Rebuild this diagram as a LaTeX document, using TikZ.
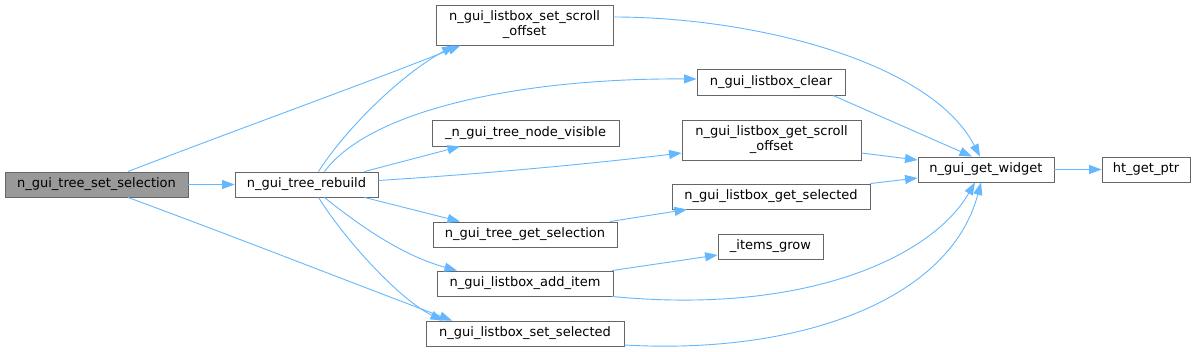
\documentclass[tikz,border=0pt]{standalone}
\usepackage{fontspec}
\setmainfont{DejaVu Sans}
\usetikzlibrary{arrows.meta}
\definecolor{edgeblue}{HTML}{63B8FF}
\definecolor{boxborder}{HTML}{666666}
\definecolor{curfill}{HTML}{999999}
\begin{document}
\begin{tikzpicture}[x=1pt,y=-1pt,
  fn/.style={draw=boxborder,line width=0.9pt,fill=white,inner sep=0pt,
    font=\fontsize{13}{15}\selectfont,align=center,minimum height=25pt},
  cur/.style={fn,fill=curfill},
  call/.style={draw=edgeblue,line width=0.9pt,-{Triangle[length=12.5pt,width=9pt]}}]
\path[use as bounding box,fill=white] (0,0) rectangle (1196,352);
% nodes
\node[cur,minimum width=183pt] (sel) at (96.5,184.5) {n\_gui\_tree\_set\_selection};
\node[fn,minimum width=143pt] (rebuild) at (306.5,184.5) {n\_gui\_tree\_rebuild};
\node[fn,minimum width=177pt,minimum height=40pt] (setscroll) at (524.5,25) {n\_gui\_listbox\_set\_scroll\\\_offset};
\node[fn,minimum width=148pt,minimum height=26pt] (clear) at (771,82) {n\_gui\_listbox\_clear};
\node[fn,minimum width=187pt,minimum height=26pt] (nodevis) at (525.5,133) {\_n\_gui\_tree\_node\_visible};
\node[fn,minimum width=179pt,minimum height=40pt] (getscroll) at (771.5,140) {n\_gui\_listbox\_get\_scroll\\\_offset};
\node[fn,minimum width=198pt] (getsel) at (771,196.5) {n\_gui\_listbox\_get\_selected};
\node[fn,minimum width=184pt] (treegetsel) at (525,234.5) {n\_gui\_tree\_get\_selection};
\node[fn,minimum width=105pt] (itemsgrow) at (770.5,246.5) {\_items\_grow};
\node[fn,minimum width=176pt] (additem) at (525,283.5) {n\_gui\_listbox\_add\_item};
\node[fn,minimum width=198pt] (setselected) at (525,333.5) {n\_gui\_listbox\_set\_selected};
\node[fn,minimum width=136pt] (getwidget) at (986,169.5) {n\_gui\_get\_widget};
\node[fn,minimum width=88pt] (htptr) at (1146,169.5) {ht\_get\_ptr};
% edges
\draw[call] (sel.east) -- (rebuild.west);
\draw[call] ([xshift=31.5pt]sel.north) .. controls (230,132) and (380,78) .. ([xshift=-64pt]setscroll.south);
\draw[call] ([xshift=31.5pt]sel.south) .. controls (230,235) and (350,282) .. ([xshift=-73pt]setselected.north);
\draw[call] ([xshift=12pt]rebuild.north) .. controls (345,130) and (400,75) .. ([xshift=-70pt]setscroll.south);
\draw[call] ([xshift=18pt]rebuild.north) .. controls (370,110) and (520,78) .. ([yshift=3pt]clear.west);
\draw[call] ([xshift=58pt]rebuild.north) -- ([xshift=-65.5pt]nodevis.south);
\draw[call] ([yshift=4pt]rebuild.east) .. controls (480,174) and (580,165) .. ([yshift=-13pt]getscroll.west);
\draw[call] ([xshift=58pt]rebuild.south) -- ([xshift=-65pt]treegetsel.north);
\draw[call] ([xshift=18pt]rebuild.south) .. controls (355,222) and (400,255) .. ([xshift=-68pt]additem.north);
\draw[call] ([xshift=12pt]rebuild.south) .. controls (345,240) and (400,300) .. ([xshift=-82pt]setselected.north);
\draw[call] ([yshift=8pt]setscroll.east) .. controls (750,17) and (930,60) .. ([xshift=-6pt]getwidget.north);
\draw[call] ([xshift=62pt]clear.south) -- ([xshift=-14pt]getwidget.north);
\draw[call] ([yshift=-13pt]getscroll.east) -- ([yshift=9.5pt]getwidget.west);
\draw[call] (getsel.north east) -- ([yshift=-8.5pt]getwidget.west);
\draw[call] ([xshift=85pt]treegetsel.north) -- ([xshift=-84pt]getsel.south);
\draw[call] ([xshift=87pt]additem.north) -- ([yshift=-8.5pt]itemsgrow.west);
\draw[call] ([xshift=87pt]additem.south) .. controls (800,315) and (930,260) .. ([xshift=-11pt]getwidget.south);
\draw[call] ([yshift=-11.5pt]setselected.east) .. controls (800,355) and (950,300) .. ([xshift=-5pt]getwidget.south);
\draw[call] (getwidget.east) -- (htptr.west);
\end{tikzpicture}
\end{document}
